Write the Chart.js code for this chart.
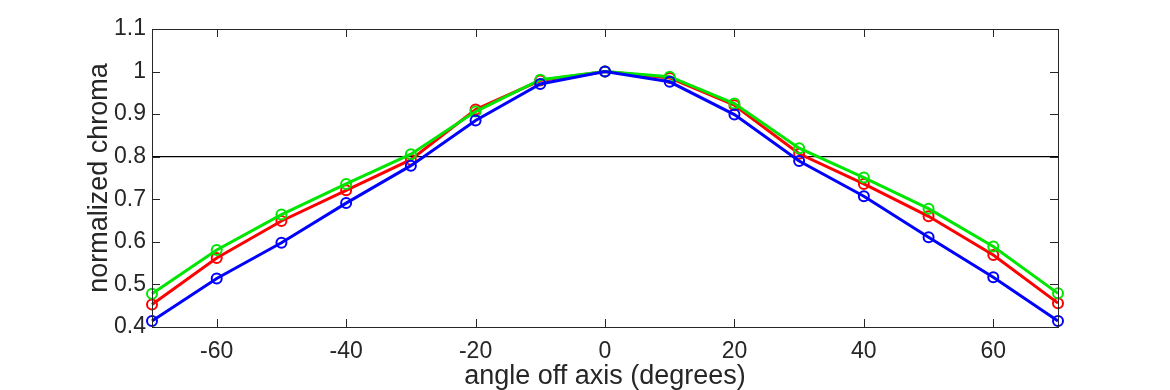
<!DOCTYPE html>
<html>
<head>
<meta charset="utf-8">
<script src="https://cdn.jsdelivr.net/npm/chart.js@4/dist/chart.umd.min.js"></script>
<style>
  html, body { margin: 0; padding: 0; background: #fff; }
  #c { display: block; }
</style>
</head>
<body>
<canvas id="c" width="1170" height="390"></canvas>
<script>
const angles = [-70, -60, -50, -40, -30, -20, -10, 0, 10, 20, 30, 40, 50, 60, 70];
const redValues   = [0.453, 0.562, 0.649, 0.721, 0.793, 0.911, 0.979, 1.0, 0.985, 0.921, 0.807, 0.736, 0.660, 0.569, 0.456];
const greenValues = [0.478, 0.581, 0.664, 0.736, 0.806, 0.906, 0.981, 1.0, 0.988, 0.925, 0.820, 0.751, 0.678, 0.589, 0.479];
const blueValues  = [0.414, 0.514, 0.598, 0.691, 0.779, 0.885, 0.971, 1.0, 0.976, 0.899, 0.790, 0.707, 0.611, 0.517, 0.414];
const thresholdValue = 0.8;
const xTickValues = [-60, -40, -20, 0, 20, 40, 60];
const yTickValues = [0.4, 0.5, 0.6, 0.7, 0.8, 0.9, 1.0, 1.1];
const xRange = [-70, 70];
const yRange = [0.4, 1.1];

const toPoints = vals => vals.map((v, i) => ({ x: angles[i], y: v }));

function series(label, color, vals) {
  return {
    label, data: toPoints(vals),
    borderColor: color, borderWidth: 3,
    pointRadius: 5, pointBorderWidth: 2,
    pointBorderColor: color, pointBackgroundColor: 'rgba(0,0,0,0)',
    pointHoverRadius: 5,
    tension: 0, clip: false
  };
}

const axisColor = '#262626';

const framePlugin = {
  id: 'frame',
  afterDatasetsDraw(chart) {
    const { ctx, chartArea: a, scales } = chart;
    const len = 8;
    ctx.save();
    ctx.strokeStyle = axisColor;
    ctx.lineWidth = 1;
    ctx.beginPath();
    xTickValues.forEach(v => {
      const px = Math.round(scales.x.getPixelForValue(v)) + 0.5;
      ctx.moveTo(px, a.bottom); ctx.lineTo(px, a.bottom - len);
      ctx.moveTo(px, a.top); ctx.lineTo(px, a.top + len);
    });
    yTickValues.forEach(v => {
      const py = Math.round(scales.y.getPixelForValue(v)) + 0.5;
      ctx.moveTo(a.left, py); ctx.lineTo(a.left + len, py);
      ctx.moveTo(a.right, py); ctx.lineTo(a.right - len, py);
    });
    ctx.stroke();
    ctx.strokeRect(Math.round(a.left) + 0.5, Math.round(a.top) + 0.5,
                   Math.round(a.right - a.left), Math.round(a.bottom - a.top));
    ctx.restore();
  }
};

new Chart(document.getElementById('c'), {
  type: 'line',
  data: {
    datasets: [
      series('blue', '#0000ff', blueValues),
      series('green', '#00e600', greenValues),
      series('red', '#ff0000', redValues),
      {
        label: 'threshold',
        data: [{ x: xRange[0], y: thresholdValue }, { x: xRange[1], y: thresholdValue }],
        borderColor: '#000000', borderWidth: 1.2, pointRadius: 0, pointHoverRadius: 0
      }
    ]
  },
  options: {
    responsive: false,
    animation: false,
    events: [],
    layout: { padding: { left: 0, right: 112, top: 29, bottom: 0 } },
    plugins: { legend: { display: false }, tooltip: { enabled: false } },
    scales: {
      x: {
        type: 'linear', min: xRange[0], max: xRange[1],
        afterBuildTicks: s => { s.ticks = xTickValues.map(v => ({ value: v })); },
        afterFit: s => { s.height = 63; },
        grid: { display: false, drawTicks: false, tickLength: 0 },
        border: { display: false },
        ticks: { color: axisColor, font: { family: 'Liberation Sans', size: 23 }, padding: 11, maxRotation: 0 },
        title: {
          display: true, text: 'angle off axis (degrees)', color: axisColor,
          font: { family: 'Liberation Sans', size: 27, lineHeight: 1 },
          padding: { top: 0, bottom: 0 }
        }
      },
      y: {
        type: 'linear', min: yRange[0], max: yRange[1],
        afterBuildTicks: s => { s.ticks = yTickValues.map(v => ({ value: v })); },
        afterFit: s => { s.width = 152; },
        grid: { display: false, drawTicks: false, tickLength: 0 },
        border: { display: false },
        ticks: { color: axisColor, font: { family: 'Liberation Sans', size: 23 }, padding: 6,
                 callback: v => String(Math.round(v * 10) / 10) },
        title: {
          display: true, text: 'normalized chroma', color: axisColor,
          font: { family: 'Liberation Sans', size: 27, lineHeight: 1 },
          padding: { top: 86, bottom: 0 }
        }
      }
    }
  },
  plugins: [framePlugin]
});
</script>
</body>
</html>
